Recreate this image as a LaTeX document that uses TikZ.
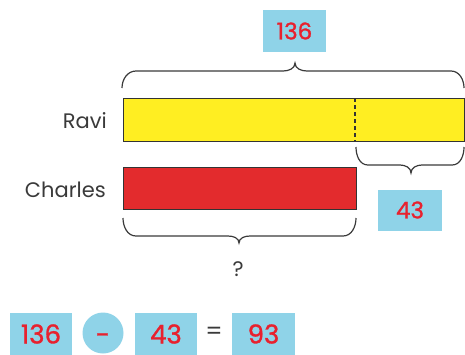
\documentclass[tikz,border=0pt]{standalone}
\usepackage{fontspec}
\setmainfont{Poppins}
\newfontfamily\numfont{Poppins}[FakeBold=1.2]
\definecolor{boxblue}{HTML}{8FD3E8}
\definecolor{numred}{HTML}{E8212E}
\definecolor{baryellow}{HTML}{FFEE22}
\definecolor{barred}{HTML}{E32B2D}
\definecolor{ink}{HTML}{3A3A3A}
\tikzset{
  numbox/.style={fill=boxblue, text=numred, inner sep=0pt, font=\numfont\fontsize{23}{23}\selectfont},
  bignum/.style={numbox, minimum width=62pt, minimum height=42pt, font=\numfont\fontsize{26}{26}\selectfont},
  lbl/.style={text=ink, inner sep=0pt, font=\fontsize{21}{21}\selectfont},
  brc/.style={draw=ink, line width=1.2pt},
  bar/.style={draw=black!80, line width=1.1pt}
}
\begin{document}
\begin{tikzpicture}[x=1pt,y=-1pt]
\useasboundingbox (0,0) rectangle (465,354);
% top number
\node[numbox, minimum width=63pt, minimum height=42pt] (top) at (294.5,31) {136};
% bars
\node[bar, fill=baryellow, minimum width=341pt, minimum height=43pt, anchor=north west] (ravi) at (123,98) {};
\draw[bar, dashed, dash pattern=on 4pt off 3pt] (355,98) -- (355,141);
\node[bar, fill=barred, minimum width=233pt, minimum height=42pt, anchor=north west] (charles) at (123,167) {};
% labels
\node[lbl, anchor=east] (lr) at (107,121) {Ravi};
\node[lbl, anchor=east] (lc) at (106,190) {Charles};
% top brace
\draw[brc] (122,88) to[out=90,in=180] (136,71) -- (283,71) to[out=0,in=-90] (295,63)
  to[out=-90,in=180] (307,71) -- (451,71) to[out=0,in=90] (464,88);
% right brace
\draw[brc] (356,147) to[out=-90,in=180] (368,165) -- (400,165) to[out=0,in=90] (411,173)
  to[out=90,in=180] (422,165) -- (452,165) to[out=0,in=-90] (464,147);
\node[numbox, minimum width=64pt, minimum height=41pt] (n43) at (410,210) {43};
% lower brace
\draw[brc] (123,218) to[out=-90,in=180] (136,236) -- (228,236) to[out=0,in=90] (239,243)
  to[out=90,in=180] (250,236) -- (343,236) to[out=0,in=-90] (356,218);
\node[lbl] (q) at (238,269) {?};
% equation
\node[bignum] (e1) at (41,334) {136};
\node[circle, fill=boxblue, minimum size=41pt, inner sep=0pt] (op) at (103,333) {};
\node[text=numred, inner sep=0pt, font=\numfont\fontsize{26}{26}\selectfont, anchor=base] (minus) at ([yshift=-11pt]op.center) {-};
\node[bignum] (e2) at (166,334) {43};
\node[lbl, font=\fontsize{24}{24}\selectfont] (eq) at (214,333) {=};
\node[bignum, minimum width=63pt] (e3) at (263.5,334) {93};
\end{tikzpicture}
\end{document}
